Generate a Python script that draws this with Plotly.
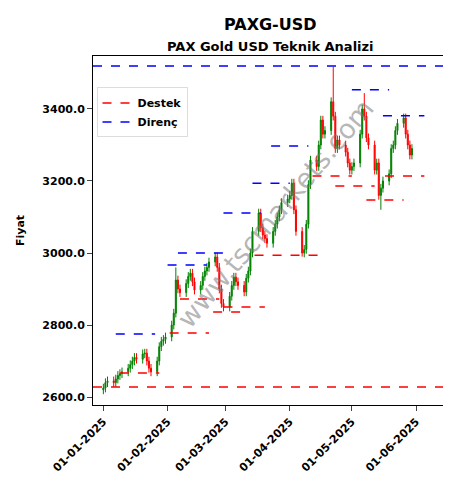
import plotly.graph_objects as go
import pandas as pd

# daily closes (business days)
closes = [2625, 2640, 2645, 2640, 2650, 2660, 2665, 2670, 2680, 2690, 2700, 2710, 2705, 2720, 2722,
          2700, 2680, 2670, 2700, 2740, 2755, 2760, 2767,
          2800, 2833, 2925, 2900, 2890, 2915, 2935, 2944, 2920, 2897, 2910, 2935, 2950, 2960, 2975,
          2989, 2960, 2900, 2860, 2850,
          2880, 2910, 2933, 2920, 2910, 2892, 2930, 2950, 3000, 3060, 3111, 3070, 3050, 3040, 3027,
          3060, 3080, 3100, 3120, 3140, 3150,
          3160, 3194, 3120, 3060, 3000, 3010, 3080, 3190, 3258, 3240, 3300, 3369, 3330, 3340, 3420,
          3380, 3290, 3314, 3300, 3280, 3250, 3230,
          3240, 3250, 3330, 3400, 3380, 3320, 3300, 3230, 3250, 3160, 3180, 3200, 3220, 3290, 3300,
          3340, 3360, 3375, 3330, 3300, 3272, 3290]
dates = pd.bdate_range("2025-01-01", periods=len(closes))
opens = [2620] + closes[:-1]
wick = 12
spikes_high = {"2025-04-22": 3517, "2025-05-07": 3444, "2025-02-05": 2960}
spikes_low = {"2025-05-15": 3120, "2025-04-07": 2990}

highs = []
lows = []
for d, o, c in zip(dates, opens, closes):
    k = d.strftime("%Y-%m-%d")
    highs.append(spikes_high.get(k, max(o, c) + wick))
    lows.append(spikes_low.get(k, min(o, c) - wick))

support_top = 3519
support_bottom = 2628
# (start, end, level)
res_segments = [("2025-01-07", "2025-01-26", 2775), ("2025-02-01", "2025-02-20", 2967),
                ("2025-02-06", "2025-03-03", 3000), ("2025-02-28", "2025-03-18", 3111),
                ("2025-03-14", "2025-04-01", 3194), ("2025-03-23", "2025-04-10", 3297),
                ("2025-05-01", "2025-05-19", 3453), ("2025-05-16", "2025-06-05", 3381)]
sup_segments = [("2025-01-09", "2025-01-28", 2667), ("2025-02-02", "2025-02-21", 2778),
                ("2025-02-07", "2025-02-26", 2872), ("2025-02-23", "2025-03-12", 2836),
                ("2025-02-28", "2025-03-20", 2850), ("2025-03-15", "2025-04-17", 2994),
                ("2025-04-12", "2025-05-01", 3214), ("2025-04-23", "2025-05-12", 3186),
                ("2025-05-08", "2025-05-26", 3147), ("2025-05-17", "2025-06-05", 3214)]

fig = go.Figure()
fig.add_trace(go.Candlestick(x=dates, open=opens, high=highs, low=lows, close=closes,
                             increasing=dict(line=dict(color="green", width=1), fillcolor="green"),
                             decreasing=dict(line=dict(color="red", width=1), fillcolor="red"),
                             showlegend=False))

for s, e, v in res_segments:
    fig.add_trace(go.Scatter(x=[s, e], y=[v, v], mode="lines", showlegend=False,
                             line=dict(color="blue", dash="dash", width=1.5)))
for s, e, v in sup_segments:
    fig.add_trace(go.Scatter(x=[s, e], y=[v, v], mode="lines", showlegend=False,
                             line=dict(color="red", dash="dash", width=1.5)))

fig.add_hline(y=support_top, line=dict(color="blue", dash="dash", width=1.5))
fig.add_hline(y=support_bottom, line=dict(color="red", dash="dash", width=1.5))

# legend entries
fig.add_trace(go.Scatter(x=[None], y=[None], mode="lines", name="Destek",
                         line=dict(color="red", dash="dash", width=1.5)))
fig.add_trace(go.Scatter(x=[None], y=[None], mode="lines", name="Direnç",
                         line=dict(color="blue", dash="dash", width=1.5)))

fig.add_annotation(text="www.tscmarkets.com", x=0.52, y=0.55, xref="paper", yref="paper",
                   showarrow=False, textangle=-50, font=dict(size=27, color="rgba(120,120,120,0.55)"))

fig.add_annotation(text="<b>PAXG-USD</b>", x=262, y=489 - 17, xref="paper", yref="paper",
                   showarrow=False, font=dict(size=16))
fig.add_annotation(text="<b>PAX Gold USD Teknik Analizi</b>", x=262, y=489 - 38, xref="paper",
                   yref="paper", showarrow=False, font=dict(size=13))

fig.update_layout(
    width=451, height=489,
    margin=dict(l=85, r=16, t=48, b=92),
    plot_bgcolor="white", paper_bgcolor="white",
    font=dict(family="DejaVu Sans", color="black", size=11),
    legend=dict(x=0.01, y=0.91, bgcolor="rgba(255,255,255,0.8)", bordercolor="#dddddd",
                borderwidth=1, font=dict(size=11, weight="bold")),
    xaxis=dict(rangeslider=dict(visible=False), range=["2024-12-27", "2025-06-14"],
               tickvals=["2025-01-01", "2025-02-01", "2025-03-01", "2025-04-01", "2025-05-01", "2025-06-01"],
               ticktext=["01-01-2025", "01-02-2025", "01-03-2025", "01-04-2025", "01-05-2025", "01-06-2025"],
               tickangle=-45, showline=True, linecolor="black", mirror=True, ticks="outside",
               showgrid=False, tickfont=dict(weight="bold", size=11)),
    yaxis=dict(range=[2578, 3547], tickformat=".1f", dtick=200, showline=True, linecolor="black",
               mirror=True, ticks="outside", showgrid=False, tickfont=dict(weight="bold", size=11),
               title=dict(text="<b>Fiyat</b>", font=dict(size=11))),
)

# title positions are in pixels; convert to paper coords
for a in fig.layout.annotations[1:]:
    a.x = (a.x - 85) / (451 - 85 - 16)
    a.y = (a.y - 92) / (489 - 48 - 92)
    a.yanchor = "middle"

fig.write_html("out.html")
